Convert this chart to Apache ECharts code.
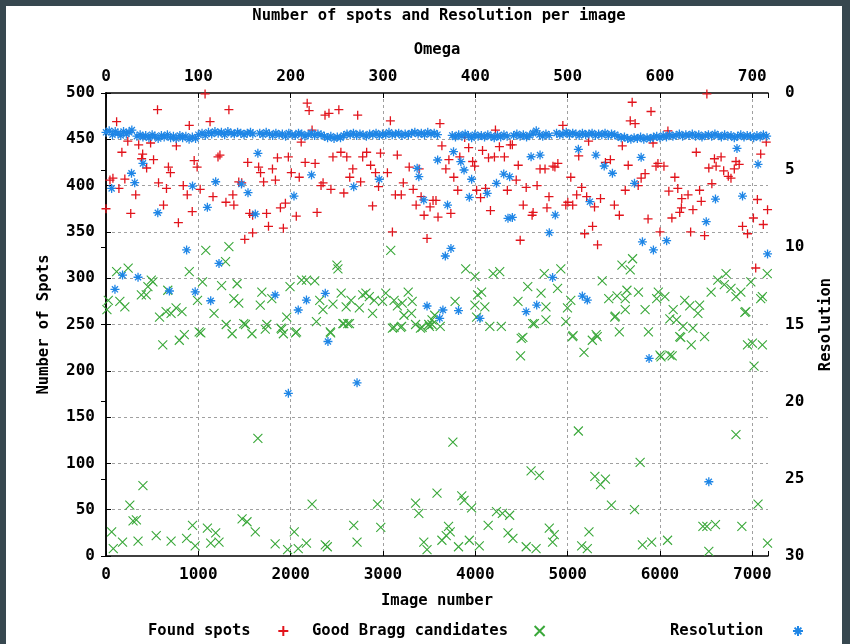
<!DOCTYPE html>
<html>
<head>
<meta charset="utf-8">
<script src="https://cdn.jsdelivr.net/npm/echarts@6/dist/echarts.min.js"></script>
<style>
html, body { margin: 0; padding: 0; width: 850px; height: 644px; background: #37474f; overflow: hidden; }
#chart { position: absolute; left: 6px; top: 6px; width: 836px; height: 638px; background: #ffffff; }
</style>
</head>
<body>
<div id="chart"></div>
<script>
// [image number, number of spots]
const foundSpots = [
  [0,375],[115,469],[43,406],[75,408],[140,397],[172,436],[204,407],[236,448],[268,370],[322,390],
  [354,444],[386,429],[397,434],[440,419],[483,446],[515,428],[558,482],[569,403],[623,379],[655,397],
  [676,420],[698,414],[762,443],[784,360],[837,400],[880,390],[902,465],[934,372],[955,427],[987,420],
  [1020,396],[1073,499],[1127,469],[1159,388],[1213,431],[1234,433],[1331,482],[1299,382],[1374,390],[1385,379],
  [1438,404],[1470,403],[1535,425],[1556,370],[1588,368],[1503,342],[1588,349],[1653,420],[1674,414],[1707,404],
  [1739,370],[1760,356],[1803,418],[1835,406],[1857,430],[1889,376],[1921,354],[1943,381],[1975,431],[2007,414],
  [2061,367],[2093,409],[2157,425],[2179,489],[2200,481],[2232,460],[2114,447],[2265,424],[2286,371],[2329,400],
  [2351,403],[2372,476],[2415,478],[2436,396],[2458,431],[2522,482],[2544,436],[2576,392],[2608,431],[2640,409],
  [2673,418],[2726,476],[2758,404],[2780,431],[2823,436],[2866,422],[2887,378],[2919,414],[2952,399],[2973,435],
  [3080,470],[3155,433],[3048,414],[3102,350],[3134,390],[3198,390],[3220,403],[3284,420],[3327,396],[3359,379],
  [3392,418],[3413,388],[3445,368],[3477,343],[3510,377],[3542,384],[3574,384],[3596,366],[3617,467],[3638,443],
  [3681,418],[3714,428],[3735,370],[3767,409],[3810,395],[3832,431],[3885,452],[3928,441],[3971,426],[3993,421],
  [4014,395],[4057,387],[4078,438],[4111,397],[4143,430],[4164,373],[4218,460],[4261,442],[4207,431],[4315,431],
  [4347,395],[4379,444],[4401,444],[4443,406],[4465,422],[4486,341],[4519,379],[4551,398],[4615,368],[4626,371],
  [4669,400],[4701,418],[4755,418],[4798,388],[4776,376],[4841,421],[4862,420],[4894,424],[4948,465],[4980,379],
  [5002,382],[5034,409],[5055,379],[5098,390],[5120,432],[5152,398],[5184,348],[5206,388],[5227,448],[5270,356],
  [5291,377],[5324,336],[5356,386],[5409,425],[5463,428],[5506,379],[5560,368],[5592,443],[5624,395],[5656,422],
  [5678,470],[5699,490],[5731,467],[5764,400],[5796,408],[5839,413],[5871,364],[5903,480],[5925,446],[5957,421],
  [5978,424],[6000,350],[6043,421],[6086,459],[6096,394],[6161,409],[6193,397],[6236,386],[6214,371],[6129,365],
  [6508,499],[6393,436],[6232,376],[6304,390],[6357,374],[6332,350],[6429,395],[6447,383],[6483,346],
  [6562,402],[6529,419],[6590,429],[6608,421],[6662,431],[6690,416],[6740,410],[6769,408],[6805,418],[6823,426],
  [6858,423],[6894,356],[6948,348],[7012,365],[7055,385],[7091,434],[7119,358],[7151,447],[7165,374],[7037,311]
];

// [image number, good Bragg candidates]
const goodBragg = [
  [1081,330],[1331,334],[902,307],[115,307],[240,311],[490,298],[508,296],[454,291],[1045,296],[1252,292],
  [1420,294],[1295,318],[25,276],[150,275],[204,269],[10,266],[383,282],[436,282],[669,287],[580,258],
  [651,264],[759,268],[823,264],[705,262],[991,276],[1170,262],[1385,278],[1438,273],[1688,285],[1671,271],
  [1796,278],[1993,291],[2118,298],[2171,298],[2261,297],[2315,276],[2350,266],[2279,253],[1302,250],[1366,240],
  [1510,250],[1581,240],[1742,250],[1725,245],[1903,245],[1921,240],[1957,258],[2064,242],[1009,242],[615,228],
  [794,233],[848,239],[2887,262],
  [3084,330],[2501,314],[2512,310],[3896,310],[3996,302],[4193,305],[4264,307],[4747,305],[2547,284],[2458,272],
  [2654,276],[2601,269],[2744,268],[2780,282],[2815,284],[2852,280],[2905,276],[3030,284],[2995,275],[3120,276],
  [3156,270],[3209,273],[3273,285],[3316,275],[3227,260],[3309,262],[3102,246],[3202,248],[3406,246],[3503,248],
  [3531,250],[3560,260],[3781,275],[4025,282],[4068,285],[4103,269],[3996,271],[4157,248],[4282,248],[4462,275],
  [4568,291],[4712,284],[4765,269],[4640,251],[4497,235],[4490,216],[2429,242],[2565,251],[2619,251],
  [3353,250],[3531,255],[3620,248],[4014,258],
  [5588,314],[5703,321],[5678,309],[4926,310],[4891,289],[5374,297],[5445,278],[5535,281],[5642,287],[5767,285],
  [5982,285],[5964,278],[6053,280],[5034,276],[4998,268],[5624,266],[5517,259],[5839,266],[6143,266],[6268,276],
  [6322,270],[6429,271],[6411,262],[6554,285],[6626,298],[6716,305],[6697,293],[6769,289],[6823,280],[6876,285],
  [6930,264],[6984,296],[7109,280],[4765,255],[4980,253],[5052,237],[5177,220],[5267,233],[5320,237],[5560,242],
  [5510,258],[5875,242],[6107,256],[6179,255],[6250,248],[6357,246],[6214,237],[6339,228],[6483,237],[6948,228],
  [7001,230],[7109,228],[6000,217],[6107,217],[5624,278],
  [7162,305],[7091,278],[6919,263],[7019,205],[6823,131],[7062,56],[6508,32],[6601,34],[6887,32],[6529,5],
  [7165,14],
  [1027,241],[1492,251],[1896,246],[2053,241],[2433,241],[2576,251],[2637,251],[1645,127],
  [400,76],[258,55],[293,38],[329,39],[61,26],[79,8],[179,15],[347,16],[544,22],[705,16],
  [873,19],[937,33],[966,11],[1098,30],[1188,25],[1134,14],[1224,15],[1474,40],[1527,37],[1617,26],
  [1832,13],[1967,7],[2039,26],[2082,8],[2171,14],[2232,56],[2375,12],[2397,10],[2683,33],[2719,15],
  [2941,56],[2976,31],
  [3120,247],[3191,247],[3424,247],[3496,250],[4622,251],[4515,236],[5059,238],[5309,239],[6011,215],[6132,216],
  [6225,236],
  [3757,123],[5116,135],[5785,101],[4604,92],[4693,87],[5295,86],[5409,83],[5356,77],[5474,55],[5724,50],
  [3353,57],[3388,46],[3585,68],[3853,65],[3878,60],[3960,52],[3442,15],[3477,7],[3638,17],[3685,22],
  [3728,26],[3710,32],[3818,10],[3935,17],[4043,11],[4139,33],[4229,48],[4293,46],[4372,44],[4354,25],
  [4407,19],[4551,10],[4658,8],[4801,30],[4855,23],[4837,15],[5152,11],[5213,8],[5231,26],[5810,12],
  [5910,15],[6082,17],[6465,32]
];

// [image number, resolution] : the main band of well-diffracting images
const resolutionBand = [
  [0,2.55],[35,2.45],[70,2.7],[100,2.5],[130,2.6],[160,2.75],[190,2.5],[220,2.65],[250,2.55],[280,2.4],
  [335,2.8],[370,2.7],[400,2.85],[430,2.75],[465,2.9],[500,2.7],[530,2.8],[565,2.95],[600,2.75],[630,2.85],
  [665,2.7],[700,2.9],[730,2.8],[760,2.95],[800,2.75],[830,2.9],[865,2.8],[900,3.0],[935,2.85],[970,2.95],
  [1000,2.7],[1040,2.6],[1075,2.75],[1110,2.55],[1145,2.65],[1180,2.5],[1215,2.6],[1250,2.55],[1285,2.7],[1320,2.5],
  [1355,2.6],[1390,2.65],[1425,2.55],[1460,2.6],[1495,2.7],[1530,2.6],[1565,2.55],[1590,2.65],
  [1665,2.6],[1700,2.7],[1735,2.55],[1770,2.65],[1805,2.75],[1840,2.6],[1875,2.7],[1910,2.65],[1945,2.8],[1980,2.6],
  [2015,2.7],[2050,2.75],[2085,2.6],[2120,2.65],[2155,2.8],[2190,2.7],[2225,2.6],[2260,2.75],[2295,2.65],[2330,2.7],
  [2365,2.8],[2400,2.9],[2435,2.8],[2470,2.95],[2505,2.85],[2540,2.9],
  [2575,2.75],[2610,2.65],[2645,2.7],[2680,2.6],[2715,2.75],[2750,2.65],[2785,2.7],[2820,2.8],[2855,2.65],[2890,2.7],
  [2925,2.6],[2960,2.75],[2995,2.65],[3030,2.7],[3065,2.55],[3100,2.7],[3135,2.65],[3170,2.6],[3205,2.75],[3240,2.65],
  [3275,2.7],[3310,2.6],[3345,2.55],[3380,2.65],[3415,2.6],[3450,2.7],[3485,2.55],[3520,2.65],[3555,2.6],[3590,2.7],
  [3750,2.75],[3785,2.85],[3820,2.7],[3855,2.8],[3890,2.65],[3925,2.75],[3960,2.9],[3995,2.7],[4030,2.8],[4065,2.75],
  [4100,2.85],[4135,2.7],[4170,2.8],[4205,2.9],[4240,2.75],[4275,2.85],[4310,2.7],[4345,2.8],
  [4415,2.75],[4450,2.65],[4485,2.8],[4520,2.7],[4555,2.85],[4590,2.75],[4625,2.6],[4660,2.45],[4695,2.7],[4730,2.8],
  [4765,2.65],[4800,2.75],
  [4880,2.6],[4915,2.7],[4950,2.65],[4985,2.55],[5020,2.7],[5055,2.6],[5090,2.65],[5125,2.75],[5160,2.6],[5195,2.7],
  [5230,2.65],[5265,2.6],[5300,2.75],[5335,2.65],[5370,2.7],[5405,2.6],[5440,2.75],[5475,2.65],[5510,2.7],[5545,2.8],
  [5580,2.9],[5615,2.85],[5650,2.95],[5685,3.0],[5720,2.9],[5755,2.95],[5790,2.85],[5825,3.0],[5860,2.9],[5895,2.95],
  [5930,2.85],[5965,2.8],[6000,2.9],[6035,2.75],[6070,2.85],[6105,2.7],[6140,2.8],[6175,2.75],[6210,2.65],[6245,2.8],
  [6280,2.7],[6315,2.75],[6350,2.65],[6385,2.8],[6420,2.7],[6455,2.85],[6490,2.75],[6525,2.7],[6560,2.8],[6595,2.65],
  [6630,2.75],[6665,2.85],[6700,2.7],[6735,2.8],[6770,2.75],[6805,2.9],[6840,2.8],[6875,2.7],[6910,2.85],[6945,2.75],
  [6980,2.8],[7015,2.9],[7050,2.75],[7085,2.85],[7120,2.7],[7155,2.8]
];

// [image number, resolution] : images away from the main band
const resolutionScattered = [
  [61,6.18],[276,5.2],[311,5.81],[400,4.56],[561,7.76],[873,10.17],[937,6.03],[1098,7.41],[1188,5.75],[1224,11.04],
  [1467,5.9],[1538,6.46],[1617,7.84],[1645,3.91],[2036,6.68],[2226,5.31],[2683,6.07],[2959,5.59],[179,11.8],[347,11.94],
  [97,12.72],[687,12.83],[966,12.88],[1134,13.46],[1832,13.09],[2082,14.06],[2171,13.42],[2375,12.98],[2404,16.1],[1975,19.46],
  [2719,18.78],
  [3370,4.88],[3388,5.42],[3442,6.93],[3592,4.34],[3699,7.26],[3764,3.8],[3843,4.45],[3878,4.99],[3935,6.76],[3960,5.59],
  [4129,6.5],[4229,5.85],[4308,5.25],[4372,5.42],[4354,8.12],[4401,8.06],[4604,4.13],[4701,4.02],[4801,9.05],[4866,7.91],
  [3675,10.56],[3736,10.07],[5116,3.65],[5241,7.04],[5306,4.02],[5396,4.73],[5485,5.2],[5724,5.85],[5796,4.17],[5810,9.64],
  [5929,10.17],[6072,9.57],[4837,11.95],[3477,13.8],[3649,14.06],[3614,14.6],[3818,14.1],[4050,14.6],[4551,14.17],[4665,13.74],
  [5159,13.16],[5213,13.42],[5882,17.2],[7165,10.43],[6834,3.59],[7062,4.62],[6601,6.87],[6894,6.68],[6501,8.34],[6529,25.19]
];

const imageRange = [0, 7170];
const omegaRange = [0, 717];
const spotsRange = [0, 500];
const resolutionRange = [0, 30];

const FONT = 'DejaVu Sans Mono';
const PLUS = 'path://M5,0L5,10M0,5L10,5';
const CROSS = 'path://M0,0L10,10M0,10L10,0';
const STAR = 'path://M5,0L5,10M0,5L10,5M1.6,1.6L8.4,8.4M1.6,8.4L8.4,1.6';

// legend keys: same glyphs, with a leading blank point that pushes the glyph right
const PLUS_KEY = 'path://M0,5M9,0L9,10M4,5L14,5';
const CROSS_KEY = 'path://M0,5M3,0L13,10M3,10L13,0';
const STAR_KEY = 'path://M0,5M11,0L11,10M6,5L16,5M7.6,1.6L14.4,8.4M7.6,8.4L14.4,1.6';

const RED = '#e2141c';
const GREEN = '#3aa83a';
const BLUE = '#1f86e6';

const textBase = { fontFamily: FONT, fontWeight: 'bold', color: '#000' };
const tickLabel = Object.assign({ fontSize: 16 }, textBase);
const frameLine = { show: true, lineStyle: { color: '#000', width: 1.5 } };
const innerTick = { show: true, inside: true, length: 5, lineStyle: { color: '#000', width: 1 } };
const gridDash = { show: true, showMinLine: false, showMaxLine: false,
  lineStyle: { color: '#a0a0a0', width: 1, type: [3, 3] } };

function wholeTicks(step) {
  return v => (Math.round(v) % step === 0 ? String(Math.round(v)) : '');
}

function legendFor(name, icon, keyWidth, left) {
  return {
    left: left, top: 617, padding: 0, align: 'right', selectedMode: false,
    itemWidth: keyWidth, itemHeight: 10,
    formatter: n => n + '  ',
    textStyle: Object.assign({ fontSize: 15.5 }, textBase),
    data: [{ name: name, icon: icon }]
  };
}

const chart = echarts.init(document.getElementById('chart'), null, { renderer: 'canvas' });
chart.setOption({
  animation: false,
  backgroundColor: '#ffffff',
  title: {
    text: 'Number of spots and Resolution per image',
    left: 433, top: 2, padding: 0, textAlign: 'center',
    textStyle: Object.assign({ fontSize: 15.5 }, textBase)
  },
  legend: [
    legendFor('Found spots', PLUS_KEY, 14, 142),
    legendFor('Good Bragg candidates', CROSS_KEY, 13, 306),
    legendFor('Resolution', STAR_KEY, 16, 664)
  ],
  grid: { left: 100, top: 87, width: 669, height: 463, containLabel: false },
  xAxis: [
    {
      type: 'value', position: 'bottom', min: imageRange[0], max: imageRange[1], interval: 1000,
      name: 'Image number', nameLocation: 'middle', nameGap: 37,
      nameTextStyle: Object.assign({ fontSize: 15.5 }, textBase),
      axisLine: frameLine, axisTick: innerTick, splitLine: gridDash,
      axisLabel: Object.assign({ margin: 11, formatter: wholeTicks(1000) }, tickLabel)
    },
    {
      type: 'value', position: 'top', min: omegaRange[0], max: omegaRange[1], interval: 100,
      name: 'Omega', nameLocation: 'middle', nameGap: 35,
      nameTextStyle: Object.assign({ fontSize: 15.5 }, textBase),
      axisLine: frameLine, axisTick: innerTick, splitLine: { show: false },
      axisLabel: Object.assign({ margin: 8, formatter: wholeTicks(100) }, tickLabel)
    }
  ],
  yAxis: [
    {
      type: 'value', position: 'left', min: spotsRange[0], max: spotsRange[1], interval: 50,
      name: 'Number of Spots', nameLocation: 'middle', nameGap: 54, nameRotate: 90,
      nameTextStyle: Object.assign({ fontSize: 15.5 }, textBase),
      axisLine: frameLine, axisTick: innerTick, splitLine: gridDash,
      axisLabel: Object.assign({ margin: 11 }, tickLabel)
    },
    {
      type: 'value', position: 'right', min: resolutionRange[0], max: resolutionRange[1], interval: 5,
      inverse: true,
      name: 'Resolution', nameLocation: 'middle', nameGap: 50, nameRotate: 90,
      nameTextStyle: Object.assign({ fontSize: 15.5 }, textBase),
      axisLine: frameLine, axisTick: innerTick, splitLine: { show: false },
      axisLabel: Object.assign({ margin: 17 }, tickLabel)
    }
  ],
  series: [
    {
      name: 'Found spots', type: 'scatter', xAxisIndex: 0, yAxisIndex: 0,
      symbol: PLUS, symbolSize: 9, z: 3,
      itemStyle: { color: RED, borderColor: RED, borderWidth: 1.3, opacity: 1 },
      data: foundSpots
    },
    {
      name: 'Good Bragg candidates', type: 'scatter', xAxisIndex: 0, yAxisIndex: 0,
      symbol: CROSS, symbolSize: 9, z: 2,
      itemStyle: { color: GREEN, borderColor: GREEN, borderWidth: 1.1, opacity: 1 },
      data: goodBragg
    },
    {
      name: 'Resolution', type: 'scatter', xAxisIndex: 0, yAxisIndex: 1,
      symbol: STAR, symbolSize: 9, z: 4,
      itemStyle: { color: BLUE, borderColor: BLUE, borderWidth: 1.3, opacity: 1 },
      data: resolutionBand.concat(resolutionScattered)
    }
  ]
});
</script>
</body>
</html>
